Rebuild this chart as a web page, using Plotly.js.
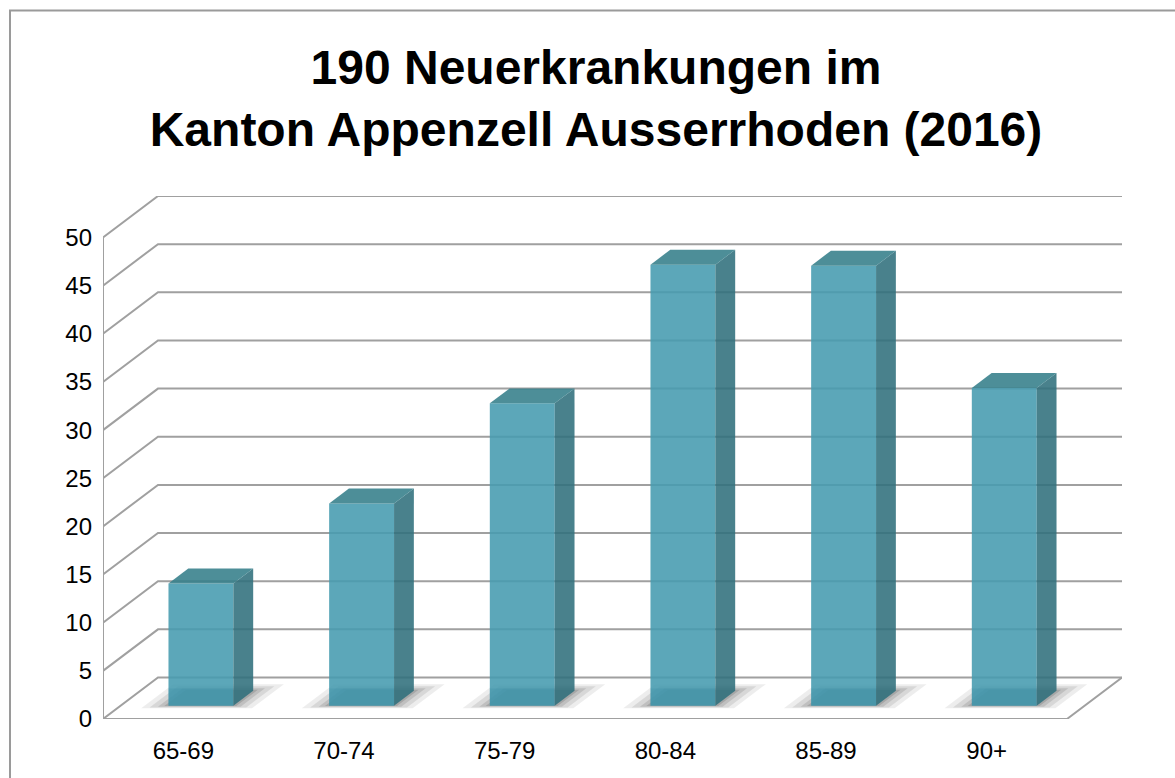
<!DOCTYPE html>
<html>
<head>
<meta charset="utf-8">
<script src="https://cdn.plot.ly/plotly-3.0.1.min.js"></script>
<style>html,body{margin:0;padding:0;background:#fff;}#chart{width:1175px;height:778px;}</style>
</head>
<body>
<div id="chart"></div>
<script>
// ---- data ----
const categories = ['65-69', '70-74', '75-79', '80-84', '85-89', '90+'];
const values = [12.7, 21.0, 31.4, 45.8, 45.7, 33.0];
const yTicks = [0, 5, 10, 15, 20, 25, 30, 35, 40, 45, 50];
const titleLines = ['190 Neuerkrankungen im', 'Kanton Appenzell Ausserrhoden (2016)'];

// ---- 3D look geometry (in axis units) ----
const DX = 55 / 160.7;   // depth shift along x
const DY = 41.5 / 9.63;  // depth shift along y
const F1 = 0.32, F2 = 0.68; // bar front/back depth fractions
const BW = 0.404;        // bar width
const YMAX = yTicks[yTicks.length - 1];
const n = categories.length;
const xs = categories.map((c, i) => i);
const XL = -0.5, XR = n - 0.5;

const FONT = 'Liberation Sans, Arial, Helvetica, sans-serif';
const GRID = '#a0a0a0';

const W = 1175, H = 778, ML = 103, MR = 53, MT = 196, MB = 59;
const pw = W - ML - MR, ph = H - MT - MB;
const toPaperX = px => (px - ML) / pw;
const toPaperY = py => (H - MB - py) / ph;

const shapes = [];
function pathOf(pts, close) {
  return pts.map((p, j) => (j ? 'L' : 'M') + p[0] + ',' + p[1]).join(' ') + (close ? ' Z' : '');
}
// chart border
shapes.push({
  type: 'rect', xref: 'paper', yref: 'paper', layer: 'below',
  x0: toPaperX(10), x1: toPaperX(W + 20), y0: toPaperY(H + 20), y1: toPaperY(10.5),
  line: {color: '#9a9a9a', width: 2}, fillcolor: 'rgba(0,0,0,0)'
});
// floor shadows (layered to look soft), under everything else
function floorPt(x, d) { return [x + d * DX, d * DY]; }
[[0.13, 0.07], [0.09, 0.09], [0.05, 0.11], [0.02, 0.13]].forEach(([e, a]) => {
  xs.forEach(i => {
    const d0 = F1 - 0.06 * (e / 0.13), d1 = F2 + 0.16 * (e / 0.13);
    const xl = i - BW / 2 - e * 1.15, xr = i + BW / 2 + e * 1.05;
    shapes.push({type: 'path', xref: 'x', yref: 'y', layer: 'below',
      path: pathOf([floorPt(xl, d0), floorPt(xr, d0), floorPt(xr, d1), floorPt(xl, d1)], true),
      fillcolor: 'rgba(0,0,0,' + a + ')', line: {width: 0}});
  });
});
// back wall + side wall gridlines
yTicks.forEach(v => {
  shapes.push({type: 'path', xref: 'x', yref: 'y', layer: 'below',
    path: pathOf([[XL, v], [XL + DX, v + DY], [XR + DX, v + DY]], false),
    line: {color: GRID, width: 2}});
});
// floor front/right edges and left axis line
shapes.push({type: 'path', xref: 'x', yref: 'y', layer: 'below',
  path: pathOf([[XR + DX, DY], [XR, 0], [XL, 0], [XL, YMAX]], false),
  line: {color: GRID, width: 2}});

const traces = [];
// front faces
traces.push({type: 'bar', x: xs.map(i => i + F1 * DX), y: values, base: F1 * DY, width: BW,
  marker: {color: 'rgba(70,155,175,0.88)', line: {width: 0}}, hoverinfo: 'skip', showlegend: false});
// faint darker foot of front faces
traces.push({type: 'bar', x: xs.map(i => i + F1 * DX), y: xs.map(() => 1.8), base: F1 * DY, width: BW,
  marker: {color: 'rgba(20,110,140,0.12)', line: {width: 0}}, hoverinfo: 'skip', showlegend: false});

// side faces and top faces
const bdx = (F2 - F1) * DX, bdy = (F2 - F1) * DY;
xs.forEach((i, k) => {
  const base = F1 * DY, top = base + values[k];
  const xl = i + F1 * DX - BW / 2, xr = i + F1 * DX + BW / 2;
  traces.push({x: [xr, xr, xr + bdx, xr + bdx, xr], y: [base, top, top + bdy, base + bdy, base],
    mode: 'lines', type: 'scatter', fill: 'toself', fillcolor: 'rgba(48,112,124,0.88)',
    line: {width: 0, color: 'rgba(0,0,0,0)'}, hoverinfo: 'skip', showlegend: false});
  traces.push({x: [xl, xl + bdx, xr + bdx, xr, xl], y: [top, top + bdy, top + bdy, top, top],
    mode: 'lines', type: 'scatter', fill: 'toself', fillcolor: 'rgba(52,126,138,0.88)',
    line: {width: 0, color: 'rgba(0,0,0,0)'}, hoverinfo: 'skip', showlegend: false});
});

const layout = {
  width: W, height: H,
  margin: {l: ML, r: MR, t: MT, b: MB, pad: 0},
  paper_bgcolor: '#fff', plot_bgcolor: 'rgba(0,0,0,0)',
  barmode: 'overlay',
  showlegend: false,
  title: {
    text: '<b>' + titleLines.join('<br>') + '</b>',
    font: {family: FONT, size: 48, color: '#000'},
    x: 596 / W, xanchor: 'center', xref: 'container',
    y: 1 - 84 / H, yanchor: 'top', yref: 'container'
  },
  xaxis: {
    range: [XL, XR + DX], tickvals: xs, ticktext: categories,
    showgrid: false, zeroline: false, showline: false, ticks: '',
    ticklabelstandoff: 15,
    tickfont: {family: FONT, size: 24, color: '#000'}, fixedrange: true
  },
  yaxis: {
    range: [0, YMAX + DY], tickvals: yTicks, ticktext: yTicks.map(String),
    showgrid: false, zeroline: false, showline: false, ticks: '',
    ticklabelstandoff: 10,
    tickfont: {family: FONT, size: 24, color: '#000'}, fixedrange: true
  },
  shapes: shapes
};

Plotly.newPlot('chart', traces, layout, {displayModeBar: false, staticPlot: true});
</script>
</body>
</html>
